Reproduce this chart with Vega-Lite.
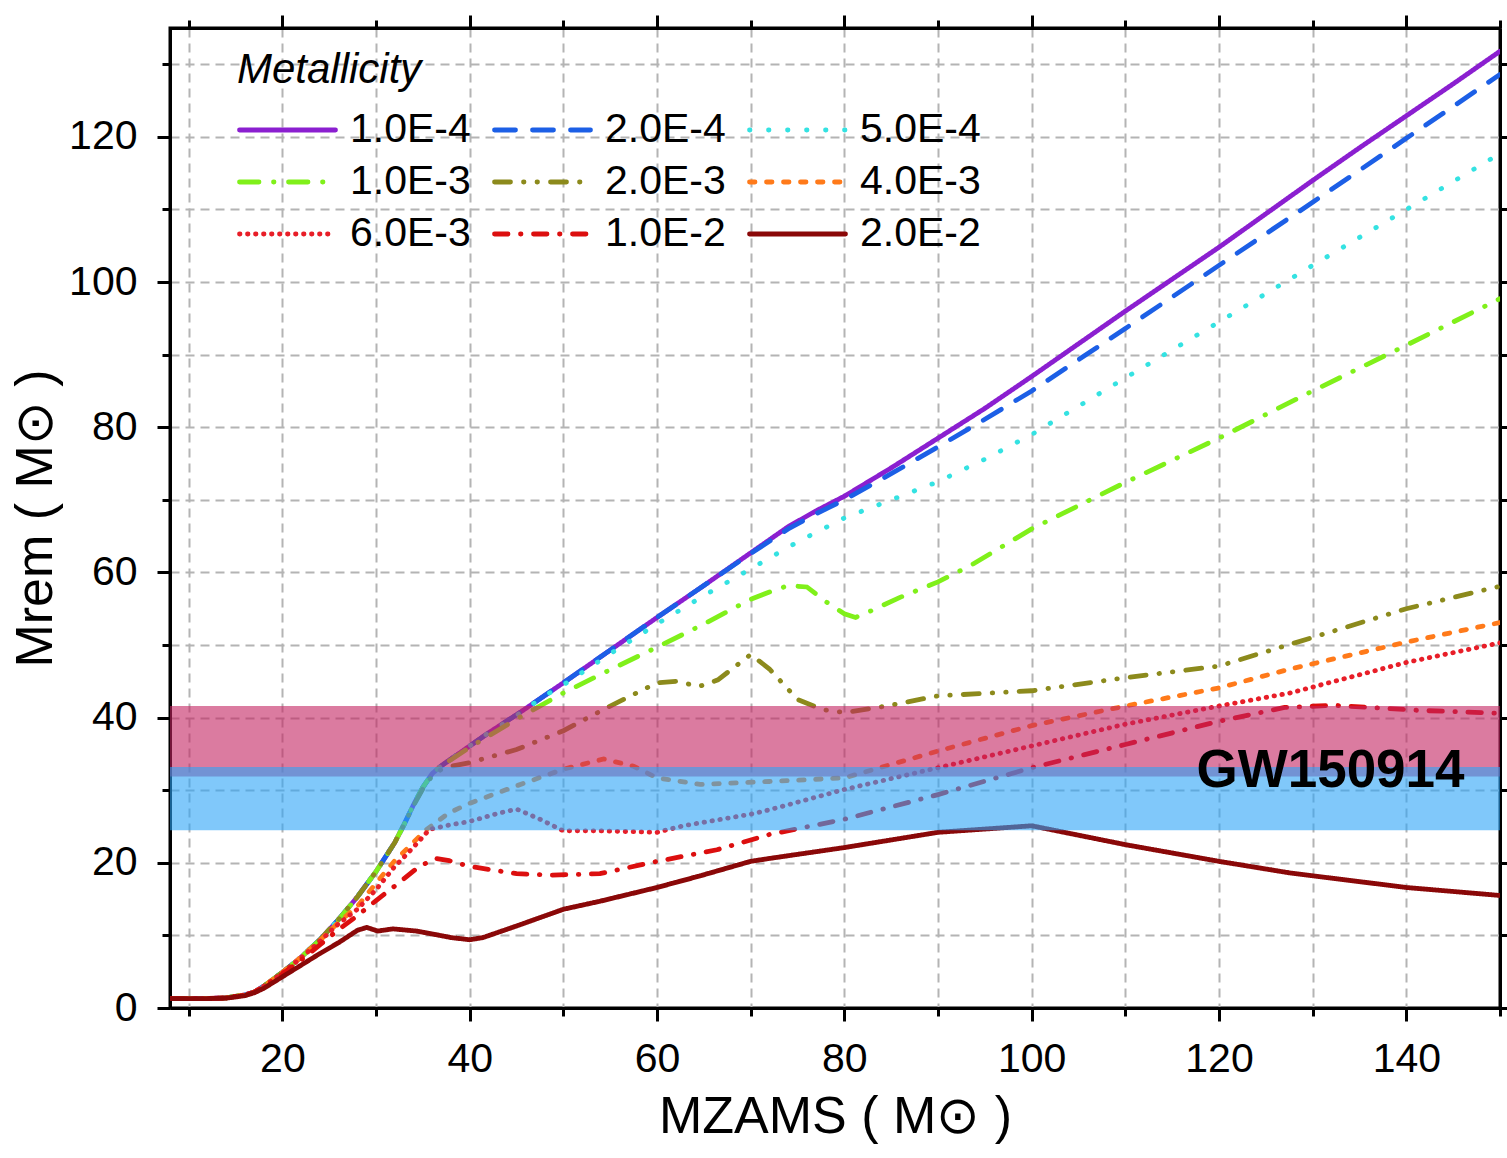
{
  "$schema": "https://vega.github.io/schema/vega-lite/v6.json",
  "width": 1330,
  "height": 980,
  "autosize": {"type": "none"},
  "padding": {"left": 170, "top": 28, "right": 7, "bottom": 150},
  "background": "white",
  "config": {"view": {"stroke": "black", "strokeWidth": 3}, "font": "Liberation Sans"},
  "resolve": {"axis": {"x": "independent", "y": "independent"}},
  "layer": [
    {
      "data": {"values": [
        {"Z":"1.0E-4","m":8,"r":1.3},{"Z":"1.0E-4","m":12,"r":1.3},{"Z":"1.0E-4","m":14,"r":1.4},{"Z":"1.0E-4","m":16,"r":1.8},{"Z":"1.0E-4","m":17,"r":2.2},{"Z":"1.0E-4","m":18,"r":3.0},{"Z":"1.0E-4","m":20,"r":4.9},{"Z":"1.0E-4","m":22,"r":7.0},{"Z":"1.0E-4","m":24,"r":9.4},{"Z":"1.0E-4","m":26,"r":12.2},{"Z":"1.0E-4","m":28,"r":15.3},{"Z":"1.0E-4","m":30,"r":18.8},{"Z":"1.0E-4","m":32,"r":22.8},{"Z":"1.0E-4","m":33,"r":25.3},{"Z":"1.0E-4","m":34,"r":28.0},{"Z":"1.0E-4","m":35,"r":30.4},{"Z":"1.0E-4","m":36,"r":32.3},{"Z":"1.0E-4","m":37,"r":33.4},{"Z":"1.0E-4","m":38,"r":34.3},{"Z":"1.0E-4","m":40,"r":36.1},{"Z":"1.0E-4","m":42,"r":37.9},{"Z":"1.0E-4","m":45,"r":40.4},{"Z":"1.0E-4","m":50,"r":44.8},{"Z":"1.0E-4","m":55,"r":49.3},{"Z":"1.0E-4","m":60,"r":53.8},{"Z":"1.0E-4","m":65,"r":58.2},{"Z":"1.0E-4","m":70,"r":62.7},{"Z":"1.0E-4","m":74,"r":66.3},{"Z":"1.0E-4","m":77,"r":68.5},{"Z":"1.0E-4","m":80,"r":70.5},{"Z":"1.0E-4","m":85,"r":74.4},{"Z":"1.0E-4","m":90,"r":78.5},{"Z":"1.0E-4","m":95,"r":82.6},{"Z":"1.0E-4","m":100,"r":87.0},{"Z":"1.0E-4","m":105,"r":91.5},{"Z":"1.0E-4","m":110,"r":96.0},{"Z":"1.0E-4","m":115,"r":100.4},{"Z":"1.0E-4","m":120,"r":104.8},{"Z":"1.0E-4","m":125,"r":109.4},{"Z":"1.0E-4","m":130,"r":114.0},{"Z":"1.0E-4","m":135,"r":118.5},{"Z":"1.0E-4","m":140,"r":122.9},{"Z":"1.0E-4","m":145,"r":127.3},{"Z":"1.0E-4","m":150,"r":131.8},

        {"Z":"2.0E-4","m":8,"r":1.3},{"Z":"2.0E-4","m":12,"r":1.3},{"Z":"2.0E-4","m":14,"r":1.4},{"Z":"2.0E-4","m":16,"r":1.8},{"Z":"2.0E-4","m":17,"r":2.2},{"Z":"2.0E-4","m":18,"r":3.0},{"Z":"2.0E-4","m":20,"r":4.9},{"Z":"2.0E-4","m":22,"r":7.0},{"Z":"2.0E-4","m":24,"r":9.4},{"Z":"2.0E-4","m":26,"r":12.2},{"Z":"2.0E-4","m":28,"r":15.3},{"Z":"2.0E-4","m":30,"r":18.8},{"Z":"2.0E-4","m":32,"r":22.8},{"Z":"2.0E-4","m":33,"r":25.3},{"Z":"2.0E-4","m":34,"r":28.0},{"Z":"2.0E-4","m":35,"r":30.4},{"Z":"2.0E-4","m":36,"r":32.3},{"Z":"2.0E-4","m":37,"r":33.4},{"Z":"2.0E-4","m":38,"r":34.3},{"Z":"2.0E-4","m":40,"r":36.1},{"Z":"2.0E-4","m":42,"r":37.9},{"Z":"2.0E-4","m":45,"r":40.4},{"Z":"2.0E-4","m":50,"r":44.8},{"Z":"2.0E-4","m":55,"r":49.3},{"Z":"2.0E-4","m":60,"r":53.8},{"Z":"2.0E-4","m":65,"r":58.2},{"Z":"2.0E-4","m":70,"r":62.6},{"Z":"2.0E-4","m":74,"r":66.0},{"Z":"2.0E-4","m":77,"r":68.1},{"Z":"2.0E-4","m":80,"r":70.0},{"Z":"2.0E-4","m":85,"r":73.6},{"Z":"2.0E-4","m":90,"r":77.3},{"Z":"2.0E-4","m":95,"r":81.1},{"Z":"2.0E-4","m":100,"r":85.0},{"Z":"2.0E-4","m":110,"r":93.6},{"Z":"2.0E-4","m":120,"r":102.3},{"Z":"2.0E-4","m":130,"r":111.0},{"Z":"2.0E-4","m":140,"r":119.8},{"Z":"2.0E-4","m":150,"r":128.6},

        {"Z":"5.0E-4","m":8,"r":1.3},{"Z":"5.0E-4","m":12,"r":1.3},{"Z":"5.0E-4","m":14,"r":1.4},{"Z":"5.0E-4","m":16,"r":1.8},{"Z":"5.0E-4","m":17,"r":2.2},{"Z":"5.0E-4","m":18,"r":3.0},{"Z":"5.0E-4","m":20,"r":4.9},{"Z":"5.0E-4","m":22,"r":7.0},{"Z":"5.0E-4","m":24,"r":9.4},{"Z":"5.0E-4","m":26,"r":12.2},{"Z":"5.0E-4","m":28,"r":15.3},{"Z":"5.0E-4","m":30,"r":18.8},{"Z":"5.0E-4","m":32,"r":22.8},{"Z":"5.0E-4","m":33,"r":25.3},{"Z":"5.0E-4","m":34,"r":28.0},{"Z":"5.0E-4","m":35,"r":30.4},{"Z":"5.0E-4","m":36,"r":32.3},{"Z":"5.0E-4","m":37,"r":33.4},{"Z":"5.0E-4","m":38,"r":34.3},{"Z":"5.0E-4","m":40,"r":36.1},{"Z":"5.0E-4","m":42,"r":37.9},{"Z":"5.0E-4","m":45,"r":40.3},{"Z":"5.0E-4","m":48,"r":43.0},{"Z":"5.0E-4","m":50,"r":44.5},{"Z":"5.0E-4","m":55,"r":48.8},{"Z":"5.0E-4","m":60,"r":52.9},{"Z":"5.0E-4","m":65,"r":56.8},{"Z":"5.0E-4","m":70,"r":60.5},{"Z":"5.0E-4","m":75,"r":64.2},{"Z":"5.0E-4","m":80,"r":67.5},{"Z":"5.0E-4","m":85,"r":70.0},{"Z":"5.0E-4","m":90,"r":72.5},{"Z":"5.0E-4","m":95,"r":75.6},{"Z":"5.0E-4","m":100,"r":79.0},{"Z":"5.0E-4","m":110,"r":86.8},{"Z":"5.0E-4","m":120,"r":94.5},{"Z":"5.0E-4","m":130,"r":102.3},{"Z":"5.0E-4","m":140,"r":110.0},{"Z":"5.0E-4","m":150,"r":117.7},

        {"Z":"1.0E-3","m":8,"r":1.3},{"Z":"1.0E-3","m":12,"r":1.3},{"Z":"1.0E-3","m":14,"r":1.4},{"Z":"1.0E-3","m":16,"r":1.8},{"Z":"1.0E-3","m":17,"r":2.2},{"Z":"1.0E-3","m":18,"r":3.0},{"Z":"1.0E-3","m":20,"r":4.9},{"Z":"1.0E-3","m":22,"r":7.0},{"Z":"1.0E-3","m":24,"r":9.4},{"Z":"1.0E-3","m":26,"r":12.2},{"Z":"1.0E-3","m":28,"r":15.3},{"Z":"1.0E-3","m":30,"r":18.8},{"Z":"1.0E-3","m":32,"r":22.8},{"Z":"1.0E-3","m":33,"r":25.3},{"Z":"1.0E-3","m":34,"r":28.0},{"Z":"1.0E-3","m":35,"r":30.4},{"Z":"1.0E-3","m":36,"r":32.3},{"Z":"1.0E-3","m":37,"r":33.4},{"Z":"1.0E-3","m":38,"r":34.2},{"Z":"1.0E-3","m":40,"r":35.9},{"Z":"1.0E-3","m":45,"r":39.8},{"Z":"1.0E-3","m":50,"r":43.4},{"Z":"1.0E-3","m":55,"r":46.6},{"Z":"1.0E-3","m":60,"r":49.7},{"Z":"1.0E-3","m":65,"r":52.9},{"Z":"1.0E-3","m":70,"r":56.3},{"Z":"1.0E-3","m":72,"r":57.3},{"Z":"1.0E-3","m":74,"r":58.2},{"Z":"1.0E-3","m":76,"r":58.0},{"Z":"1.0E-3","m":78,"r":56.0},{"Z":"1.0E-3","m":80,"r":54.3},{"Z":"1.0E-3","m":81.2,"r":53.8},{"Z":"1.0E-3","m":83,"r":54.8},{"Z":"1.0E-3","m":86,"r":56.6},{"Z":"1.0E-3","m":90,"r":58.7},{"Z":"1.0E-3","m":93.4,"r":60.9},{"Z":"1.0E-3","m":100,"r":66.0},{"Z":"1.0E-3","m":110,"r":72.4},{"Z":"1.0E-3","m":120,"r":78.5},{"Z":"1.0E-3","m":130,"r":85.0},{"Z":"1.0E-3","m":140,"r":91.3},{"Z":"1.0E-3","m":150,"r":97.7},

        {"Z":"2.0E-3","m":8,"r":1.3},{"Z":"2.0E-3","m":12,"r":1.3},{"Z":"2.0E-3","m":14,"r":1.4},{"Z":"2.0E-3","m":16,"r":1.8},{"Z":"2.0E-3","m":17,"r":2.2},{"Z":"2.0E-3","m":18,"r":3.0},{"Z":"2.0E-3","m":20,"r":4.9},{"Z":"2.0E-3","m":22,"r":7.0},{"Z":"2.0E-3","m":24,"r":9.4},{"Z":"2.0E-3","m":26,"r":12.2},{"Z":"2.0E-3","m":28,"r":15.3},{"Z":"2.0E-3","m":30,"r":18.8},{"Z":"2.0E-3","m":32,"r":22.8},{"Z":"2.0E-3","m":33,"r":25.3},{"Z":"2.0E-3","m":34,"r":27.9},{"Z":"2.0E-3","m":35,"r":30.2},{"Z":"2.0E-3","m":36,"r":32.0},{"Z":"2.0E-3","m":37,"r":32.9},{"Z":"2.0E-3","m":38,"r":33.3},{"Z":"2.0E-3","m":40,"r":33.8},{"Z":"2.0E-3","m":45,"r":35.6},{"Z":"2.0E-3","m":50,"r":38.2},{"Z":"2.0E-3","m":55,"r":41.6},{"Z":"2.0E-3","m":60,"r":44.8},{"Z":"2.0E-3","m":62,"r":45.0},{"Z":"2.0E-3","m":64.5,"r":44.3},{"Z":"2.0E-3","m":66.5,"r":45.2},{"Z":"2.0E-3","m":70,"r":48.7},{"Z":"2.0E-3","m":72,"r":46.7},{"Z":"2.0E-3","m":75,"r":42.5},{"Z":"2.0E-3","m":77.7,"r":41.1},{"Z":"2.0E-3","m":80,"r":40.7},{"Z":"2.0E-3","m":84.5,"r":41.6},{"Z":"2.0E-3","m":90,"r":43.0},{"Z":"2.0E-3","m":100,"r":43.7},{"Z":"2.0E-3","m":110,"r":45.5},{"Z":"2.0E-3","m":120,"r":47.1},{"Z":"2.0E-3","m":127.6,"r":50.1},{"Z":"2.0E-3","m":140,"r":55.0},{"Z":"2.0E-3","m":150,"r":58.1},

        {"Z":"4.0E-3","m":8,"r":1.3},{"Z":"4.0E-3","m":12,"r":1.3},{"Z":"4.0E-3","m":14,"r":1.4},{"Z":"4.0E-3","m":16,"r":1.8},{"Z":"4.0E-3","m":17,"r":2.2},{"Z":"4.0E-3","m":18,"r":3.0},{"Z":"4.0E-3","m":20,"r":4.9},{"Z":"4.0E-3","m":22,"r":7.0},{"Z":"4.0E-3","m":24,"r":9.3},{"Z":"4.0E-3","m":26,"r":11.8},{"Z":"4.0E-3","m":28,"r":14.0},{"Z":"4.0E-3","m":30,"r":17.2},{"Z":"4.0E-3","m":32,"r":20.3},{"Z":"4.0E-3","m":33.2,"r":21.8},{"Z":"4.0E-3","m":35.3,"r":24.5},{"Z":"4.0E-3","m":37.8,"r":26.9},{"Z":"4.0E-3","m":40,"r":28.2},{"Z":"4.0E-3","m":45,"r":30.6},{"Z":"4.0E-3","m":50,"r":32.9},{"Z":"4.0E-3","m":54.3,"r":34.3},{"Z":"4.0E-3","m":57.5,"r":33.3},{"Z":"4.0E-3","m":60,"r":31.7},{"Z":"4.0E-3","m":64.6,"r":30.8},{"Z":"4.0E-3","m":72,"r":31.2},{"Z":"4.0E-3","m":80,"r":31.7},{"Z":"4.0E-3","m":90,"r":35.4},{"Z":"4.0E-3","m":100,"r":38.9},{"Z":"4.0E-3","m":110,"r":41.6},{"Z":"4.0E-3","m":120,"r":44.1},{"Z":"4.0E-3","m":127.6,"r":46.7},{"Z":"4.0E-3","m":140,"r":50.4},{"Z":"4.0E-3","m":150,"r":53.1},

        {"Z":"6.0E-3","m":8,"r":1.3},{"Z":"6.0E-3","m":12,"r":1.3},{"Z":"6.0E-3","m":14,"r":1.4},{"Z":"6.0E-3","m":16,"r":1.8},{"Z":"6.0E-3","m":17,"r":2.2},{"Z":"6.0E-3","m":18,"r":3.0},{"Z":"6.0E-3","m":20,"r":4.8},{"Z":"6.0E-3","m":22,"r":6.9},{"Z":"6.0E-3","m":24,"r":9.2},{"Z":"6.0E-3","m":26,"r":11.6},{"Z":"6.0E-3","m":28,"r":13.6},{"Z":"6.0E-3","m":30,"r":16.3},{"Z":"6.0E-3","m":32,"r":19.5},{"Z":"6.0E-3","m":33,"r":20.8},{"Z":"6.0E-3","m":34.6,"r":23.0},{"Z":"6.0E-3","m":35.7,"r":24.6},{"Z":"6.0E-3","m":37.8,"r":25.2},{"Z":"6.0E-3","m":40,"r":25.7},{"Z":"6.0E-3","m":43,"r":26.8},{"Z":"6.0E-3","m":45,"r":27.4},{"Z":"6.0E-3","m":47.5,"r":26.0},{"Z":"6.0E-3","m":50,"r":24.4},{"Z":"6.0E-3","m":54,"r":24.4},{"Z":"6.0E-3","m":60,"r":24.2},{"Z":"6.0E-3","m":62.8,"r":25.1},{"Z":"6.0E-3","m":70,"r":26.7},{"Z":"6.0E-3","m":72,"r":27.3},{"Z":"6.0E-3","m":80,"r":30.1},{"Z":"6.0E-3","m":90,"r":33.1},{"Z":"6.0E-3","m":100,"r":36.1},{"Z":"6.0E-3","m":110,"r":39.1},{"Z":"6.0E-3","m":120,"r":41.6},{"Z":"6.0E-3","m":127.6,"r":43.4},{"Z":"6.0E-3","m":140,"r":47.6},{"Z":"6.0E-3","m":150,"r":50.3},

        {"Z":"1.0E-2","m":8,"r":1.3},{"Z":"1.0E-2","m":12,"r":1.3},{"Z":"1.0E-2","m":14,"r":1.4},{"Z":"1.0E-2","m":16,"r":1.8},{"Z":"1.0E-2","m":17,"r":2.2},{"Z":"1.0E-2","m":18,"r":2.9},{"Z":"1.0E-2","m":20,"r":4.7},{"Z":"1.0E-2","m":22,"r":6.6},{"Z":"1.0E-2","m":24,"r":8.7},{"Z":"1.0E-2","m":26,"r":10.8},{"Z":"1.0E-2","m":28,"r":12.7},{"Z":"1.0E-2","m":30,"r":14.8},{"Z":"1.0E-2","m":32.5,"r":17.3},{"Z":"1.0E-2","m":34.6,"r":19.5},{"Z":"1.0E-2","m":36.4,"r":20.6},{"Z":"1.0E-2","m":37.8,"r":20.3},{"Z":"1.0E-2","m":40,"r":19.5},{"Z":"1.0E-2","m":45,"r":18.5},{"Z":"1.0E-2","m":48.6,"r":18.3},{"Z":"1.0E-2","m":53.9,"r":18.5},{"Z":"1.0E-2","m":60,"r":20.2},{"Z":"1.0E-2","m":66.4,"r":21.8},{"Z":"1.0E-2","m":72,"r":23.9},{"Z":"1.0E-2","m":80,"r":26.0},{"Z":"1.0E-2","m":90,"r":29.4},{"Z":"1.0E-2","m":100,"r":33.1},{"Z":"1.0E-2","m":110,"r":36.3},{"Z":"1.0E-2","m":120,"r":39.5},{"Z":"1.0E-2","m":127,"r":41.4},{"Z":"1.0E-2","m":132.3,"r":41.7},{"Z":"1.0E-2","m":141.3,"r":41.0},{"Z":"1.0E-2","m":150,"r":40.6},

        {"Z":"2.0E-2","m":8,"r":1.3},{"Z":"2.0E-2","m":12,"r":1.3},{"Z":"2.0E-2","m":14,"r":1.35},{"Z":"2.0E-2","m":16,"r":1.7},{"Z":"2.0E-2","m":17,"r":2.1},{"Z":"2.0E-2","m":18,"r":2.7},{"Z":"2.0E-2","m":20,"r":4.3},{"Z":"2.0E-2","m":22,"r":5.9},{"Z":"2.0E-2","m":24,"r":7.5},{"Z":"2.0E-2","m":26,"r":9.0},{"Z":"2.0E-2","m":28,"r":10.7},{"Z":"2.0E-2","m":29,"r":11.1},{"Z":"2.0E-2","m":30.2,"r":10.6},{"Z":"2.0E-2","m":31.8,"r":10.9},{"Z":"2.0E-2","m":34.3,"r":10.6},{"Z":"2.0E-2","m":36.4,"r":10.1},{"Z":"2.0E-2","m":38,"r":9.7},{"Z":"2.0E-2","m":40,"r":9.4},{"Z":"2.0E-2","m":41.4,"r":9.7},{"Z":"2.0E-2","m":45,"r":11.3},{"Z":"2.0E-2","m":50,"r":13.6},{"Z":"2.0E-2","m":53.9,"r":14.7},{"Z":"2.0E-2","m":60,"r":16.6},{"Z":"2.0E-2","m":64.6,"r":18.2},{"Z":"2.0E-2","m":70,"r":20.2},{"Z":"2.0E-2","m":72,"r":20.6},{"Z":"2.0E-2","m":80,"r":22.1},{"Z":"2.0E-2","m":90,"r":24.2},{"Z":"2.0E-2","m":100,"r":25.1},{"Z":"2.0E-2","m":110,"r":22.5},{"Z":"2.0E-2","m":120,"r":20.2},{"Z":"2.0E-2","m":127.6,"r":18.6},{"Z":"2.0E-2","m":140,"r":16.6},{"Z":"2.0E-2","m":150,"r":15.5}
      ]},
      "mark": {"type": "line", "strokeWidth": 4.8, "strokeCap": "round", "clip": true},
      "encoding": {
        "x": {"field": "m", "type": "quantitative",
          "scale": {"domain": [8, 150], "nice": false, "zero": false},
          "axis": {"orient": "bottom", "values": [10,20,30,40,50,60,70,80,90,100,110,120,130,140,150],
            "labelExpr": "datum.value % 20 === 0 ? datum.label : ''",
            "tickSize": {"condition": {"test": "datum.value % 20 === 0", "value": 13}, "value": 8},
            "tickWidth": 3, "tickColor": "black", "domainColor": "black", "domainWidth": 3,
            "labelFontSize": 41, "labelFont": "Liberation Sans", "labelColor": "black", "labelPadding": 18,
            "grid": true, "gridDash": [9, 6], "gridColor": "#b4b4b4", "gridWidth": 2,
            "title": "MZAMS ( M⊙ )", "titleFont": "Liberation Sans", "titleFontSize": 52, "titleFontWeight": "normal", "titleColor": "black", "titlePadding": 12}},
        "y": {"field": "r", "type": "quantitative",
          "scale": {"domain": [0, 135], "nice": false, "zero": false},
          "axis": {"orient": "left", "values": [0,10,20,30,40,50,60,70,80,90,100,110,120,130],
            "labelExpr": "datum.value % 20 === 0 ? datum.label : ''",
            "tickSize": {"condition": {"test": "datum.value % 20 === 0", "value": 13}, "value": 8},
            "tickWidth": 3, "tickColor": "black", "domainColor": "black", "domainWidth": 3,
            "labelFontSize": 41, "labelFont": "Liberation Sans", "labelColor": "black", "labelPadding": 20,
            "grid": true, "gridDash": [9, 6], "gridColor": "#b4b4b4", "gridWidth": 2,
            "title": "Mrem ( M⊙ )", "titleFont": "Liberation Sans", "titleFontSize": 52, "titleFontWeight": "normal", "titleColor": "black", "titlePadding": 6}},
        "color": {"field": "Z", "type": "nominal",
          "scale": {"domain": ["1.0E-4","2.0E-4","5.0E-4","1.0E-3","2.0E-3","4.0E-3","6.0E-3","1.0E-2","2.0E-2"],
                    "range": ["#8B1FD0","#1C5FE6","#34E2E2","#80F01A","#8C8A1C","#FF7A1A","#E81E28","#DC0F0F","#8A0808"]},
          "legend": {"title": "Metallicity", "orient": "none", "legendX": 67, "legendY": 22, "columns": 3, "direction": "horizontal",
            "symbolType": "stroke", "symbolSize": 9216, "symbolStrokeWidth": 4.8, "clipHeight": 42,
            "labelFontSize": 41, "labelFont": "Liberation Sans", "labelColor": "black", "labelOffset": 12, "labelLimit": 300,
            "columnPadding": 21, "rowPadding": 10, "titleFont": "Liberation Sans", "titleFontSize": 42, "titleFontStyle": "italic", "titleFontWeight": "normal", "titleColor": "black", "titlePadding": 17, "titleLimit": 500, "padding": 0,
            "encode": {"symbols": {"update": {"strokeCap": {"value": "round"}}}}}},
        "strokeDash": {"field": "Z", "type": "nominal",
          "scale": {"domain": ["1.0E-4","2.0E-4","5.0E-4","1.0E-3","2.0E-3","4.0E-3","6.0E-3","1.0E-2","2.0E-2"],
                    "range": [[1,0],[21,17],[0.5,18.5],[19.5,14.5,0.5,14.5],[16,13,0.5,13,0.5,13],[5.5,11.5],[0.5,7.5],[13.5,12.5,0.5,12.5],[1,0]]},
          "legend": {"title": "Metallicity", "orient": "none", "legendX": 67, "legendY": 22, "columns": 3, "direction": "horizontal",
            "symbolType": "stroke", "symbolSize": 9216, "symbolStrokeWidth": 4.8, "clipHeight": 42,
            "labelFontSize": 41, "labelFont": "Liberation Sans", "labelColor": "black", "labelOffset": 12, "labelLimit": 300,
            "columnPadding": 21, "rowPadding": 10, "titleFont": "Liberation Sans", "titleFontSize": 42, "titleFontStyle": "italic", "titleFontWeight": "normal", "titleColor": "black", "titlePadding": 17, "titleLimit": 500, "padding": 0,
            "encode": {"symbols": {"update": {"strokeCap": {"value": "round"}}}}}}
      }
    },
    {
      "data": {"values": [{"lo": 31.9, "hi": 41.6}]},
      "mark": {"type": "rect", "color": "#C32361", "opacity": 0.6},
      "encoding": {
        "y": {"field": "lo", "type": "quantitative", "scale": {"domain": [0, 135], "nice": false, "zero": false}, "axis": null},
        "y2": {"field": "hi"}
      }
    },
    {
      "data": {"values": [{"lo": 24.5, "hi": 33.2}]},
      "mark": {"type": "rect", "color": "#2BA3F7", "opacity": 0.6},
      "encoding": {
        "y": {"field": "lo", "type": "quantitative", "scale": {"domain": [0, 135], "nice": false, "zero": false}, "axis": null},
        "y2": {"field": "hi"}
      }
    },
    {
      "data": {"values": [{"label": "GW150914", "m": 131.9, "r": 32.7}]},
      "mark": {"type": "text", "font": "Liberation Sans", "fontSize": 53, "fontWeight": "bold", "color": "black", "align": "center", "baseline": "middle"},
      "encoding": {
        "x": {"field": "m", "type": "quantitative",
          "scale": {"domain": [8, 150], "nice": false, "zero": false},
          "axis": {"orient": "top", "values": [10,20,30,40,50,60,70,80,90,100,110,120,130,140,150], "labels": false,
            "tickSize": {"condition": {"test": "datum.value % 20 === 0", "value": 13}, "value": 8},
            "tickWidth": 3, "tickColor": "black", "domainColor": "black", "domainWidth": 3, "grid": false, "title": null}},
        "y": {"field": "r", "type": "quantitative",
          "scale": {"domain": [0, 135], "nice": false, "zero": false},
          "axis": {"orient": "right", "values": [0,10,20,30,40,50,60,70,80,90,100,110,120,130], "labels": false,
            "tickSize": {"condition": {"test": "datum.value % 20 === 0", "value": 13}, "value": 8},
            "tickWidth": 3, "tickColor": "black", "domainColor": "black", "domainWidth": 3, "grid": false, "title": null}},
        "text": {"field": "label"}
      }
    }
  ]
}
